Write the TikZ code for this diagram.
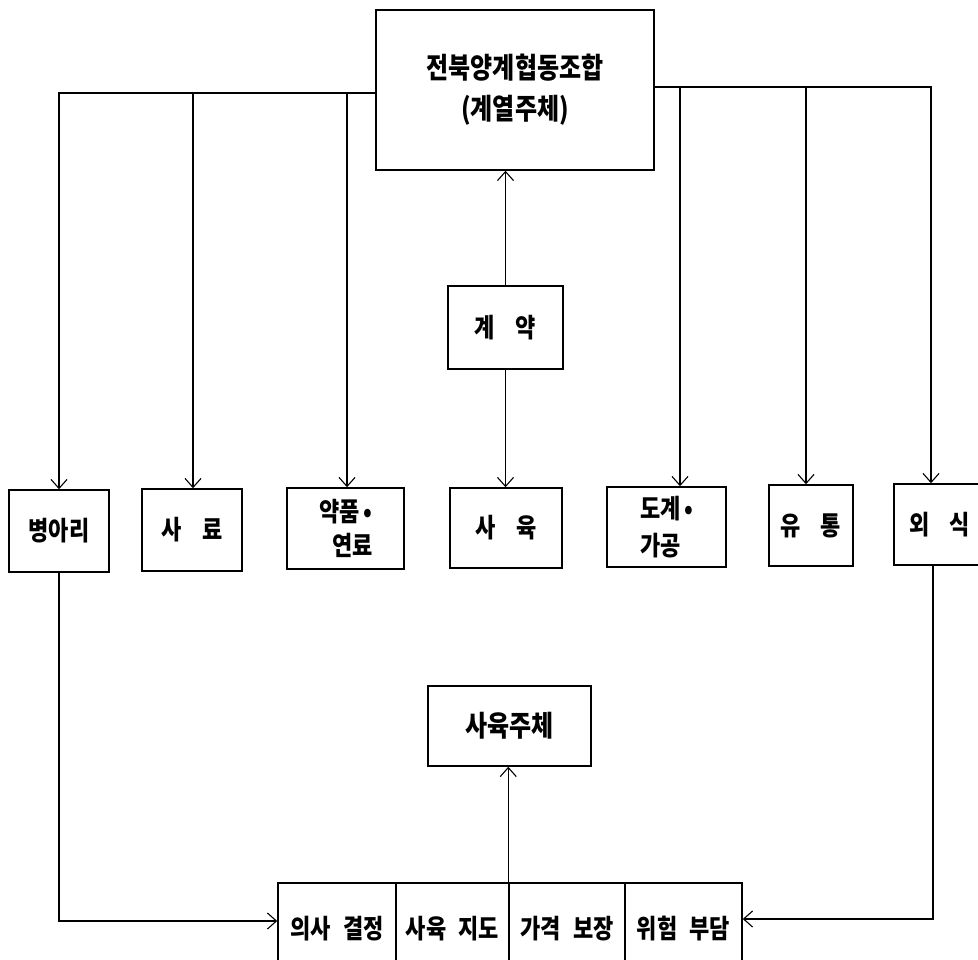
\documentclass[tikz,border=0pt]{standalone}
\usepackage{graphicx}
\usepackage{fontspec}
\setmainfont{Noto Sans CJK KR}
\usetikzlibrary{arrows.meta}
\newcommand{\tallt}[1]{\scalebox{1}[1.2]{#1}}
\begin{document}
\begin{tikzpicture}[x=1pt,y=-1pt,
  box/.style={draw, line width=1.5pt, inner sep=0pt,
    font=\fontsize{22pt}{26pt}\selectfont\bfseries},
  bigtxt/.style={font=\fontsize{24pt}{41pt}\selectfont\bfseries},
  celltxt/.style={font=\fontsize{22pt}{25pt}\selectfont\bfseries},
  conn/.style={line width=1.1pt},
  arr/.style={conn, -{Straight Barb[length=9pt,width=16pt]}},
]
\path[use as bounding box] (0,0) rectangle (978,960);
\clip (0,0) rectangle (978,960);

% main boxes
\node[box, bigtxt, minimum width=278pt, minimum height=160pt, align=center] (top) at (515,90) {\tallt{전북양계협동조합}\\\tallt{(계열주체)}};
\node[box, minimum width=115pt, minimum height=83pt] (gye) at (505.5,327.5) {\tallt{계\hspace{0.95em}약}};

% row of boxes
\node[box, minimum width=100pt, minimum height=82pt] (byung) at (59,531) {\tallt{병아리}};
\node[box, minimum width=100pt, minimum height=82pt] (saryo) at (192,530) {\tallt{사\hspace{0.95em}료}};
\node[box, minimum width=117pt, minimum height=81pt, align=center,
  font=\fontsize{22pt}{34pt}\selectfont\bfseries] (yak) at (345.5,528.5) {\tallt{약품\,•}\\\hspace*{14pt}\tallt{연료}};
\node[box, minimum width=112pt, minimum height=80pt] (sayuk) at (506,528) {\tallt{사\hspace{0.95em}육}};
\node[box, minimum width=119pt, minimum height=80pt, align=left,
  font=\fontsize{22pt}{37pt}\selectfont\bfseries] (dogye) at (666.5,527) {\tallt{도계\,•}\\\tallt{가공}};
\node[box, minimum width=84pt, minimum height=81pt] (yutong) at (811,525.5) {\tallt{유\hspace{0.9em}통}};
\node[box, minimum width=92pt, minimum height=81pt] (oesik) at (940,524.5) {\tallt{외\hspace{0.9em}식}};

\node[box, bigtxt, minimum width=163pt, minimum height=80pt] (juche) at (509.5,726) {\tallt{사육주체}};

% bottom cells
\node[box, celltxt, minimum width=118pt, minimum height=92pt] (cA) at (337,929) {\tallt{의사\hspace{0.55em}결정}};
\node[box, celltxt, minimum width=113pt, minimum height=92pt] (cB) at (452.5,929) {\tallt{사육\hspace{0.55em}지도}};
\node[box, celltxt, minimum width=116pt, minimum height=92pt] (cC) at (567,929) {\tallt{가격\hspace{0.55em}보장}};
\node[box, celltxt, minimum width=117pt, minimum height=92pt] (cD) at (683.5,929) {\tallt{위험\hspace{0.55em}부담}};

% connector coordinates
\coordinate (d1) at (59,93);
\coordinate (d2) at (193,93);
\coordinate (d3) at (347,93);
\coordinate (d4) at (680,87);
\coordinate (d5) at (806,87);
\coordinate (d6) at (931,87);
\coordinate (lj) at (59,921);
\coordinate (rj) at (933,919);

% top distribution lines
\draw[arr] (top.west |- d1) -- (d1) -- (d1 |- byung.north);
\draw[arr] (d2) -- (d2 |- saryo.north);
\draw[arr] (d3) -- (d3 |- yak.north);
\draw[arr] (top.east |- d6) -- (d6) -- (d6 |- oesik.north);
\draw[arr] (d4) -- (d4 |- dogye.north);
\draw[arr] (d5) -- (d5 |- yutong.north);

% contract
\draw[arr] (gye.north) -- (gye.north |- top.south);
\draw[arr] (gye.south) -- (gye.south |- sayuk.north);

% bottom feedback
\draw[arr] (byung.south) -- (lj) -- (lj -| cA.west);
\draw[arr] (oesik.south -| rj) -- (rj) -- (rj -| cD.east);
\draw[arr] (cC.north west) -- (cC.north west |- juche.south);
\end{tikzpicture}
\end{document}
